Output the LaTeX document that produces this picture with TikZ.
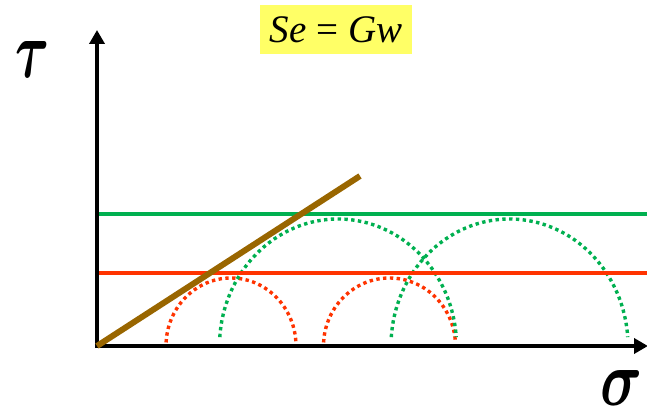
\documentclass[tikz,border=0pt]{standalone}
\usepackage{amsmath,amsbsy}
\usepackage{fontspec}
\setmainfont{Liberation Serif}
\usetikzlibrary{arrows.meta}
\definecolor{gline}{RGB}{0,176,80}
\definecolor{rline}{RGB}{255,51,0}
\definecolor{bline}{RGB}{153,102,0}
\definecolor{ybox}{RGB}{255,255,102}
\tikzset{
  axis/.style={line width=4.5pt,-{Triangle[width=15pt,length=14pt]}},
  level/.style={line width=4.5pt},
  dotarc/.style={line width=3.4pt,dash pattern=on 3.4pt off 3.4pt},
  greek/.style={inner sep=0pt}
}
\begin{document}
\begin{tikzpicture}[x=1pt,y=1pt]
\useasboundingbox (0,0) rectangle (647,409);
\coordinate (O) at (97,63);
\coordinate (ytip) at (97,379);
\coordinate (xtip) at (648,63);
\coordinate (g0) at (97,195);
\coordinate (g1) at (647,195);
\coordinate (r0) at (97,136);
\coordinate (r1) at (647,136);
\coordinate (b1) at (360,233);
% dotted arcs
\draw[dotarc,rline] (231,63) ++(177:65 and 68) arc[start angle=177,end angle=3,x radius=65,y radius=68];
\draw[dotarc,rline] (389.5,63) ++(177:66 and 68) arc[start angle=177,end angle=3,x radius=66,y radius=68];
\draw[dotarc,gline] (338,63) ++(176:118.5 and 127) arc[start angle=176,end angle=4,x radius=118.5,y radius=127];
\draw[dotarc,gline] (509.5,63) ++(176:118.5 and 127) arc[start angle=176,end angle=4,x radius=118.5,y radius=127];
% level lines
\draw[level,gline] (g0) -- (g1);
\draw[level,rline] (r0) -- (r1);
% axes
\draw[axis] ([yshift=-2.25pt]O) -- (ytip);
\draw[axis] ([xshift=-2.25pt]O) -- (xtip);
% envelope
\draw[line width=6pt,bline] (O) -- (b1);
% labels
\node[greek,anchor=south west] (tau) at (15,331) {\resizebox{34pt}{36pt}{$\boldsymbol{\tau}$}};
\node[greek,anchor=south west] (sigma) at (600,3) {\resizebox{42pt}{35pt}{$\boldsymbol{\sigma}$}};
\node[fill=ybox,minimum width=152pt,minimum height=49pt,inner sep=0pt,font=\fontsize{39}{39}\selectfont] (eq) at (336,379.5) {\textit{Se} = \textit{Gw}};
\end{tikzpicture}
\end{document}
